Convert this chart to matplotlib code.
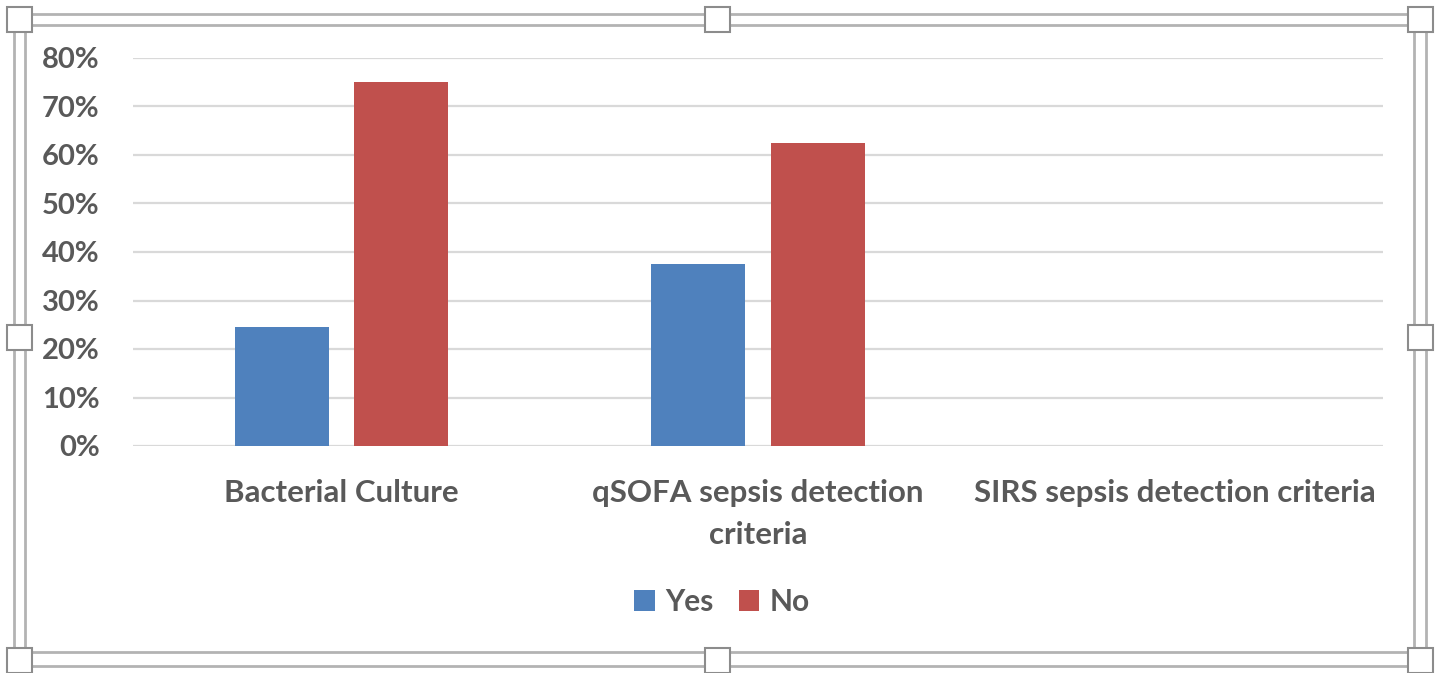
import matplotlib
matplotlib.use('Agg')
import numpy as np
import matplotlib.pyplot as plt
from matplotlib.patches import Rectangle
from matplotlib.ticker import PercentFormatter

# data (percent)
categories = ['Bacterial Culture', 'qSOFA sepsis detection\ncriteria',
              'SIRS sepsis detection criteria']
yes_vals = [24.6, 37.5, 0.0]
no_vals = [75.0, 62.5, 0.0]
y_ticks = [0, 10, 20, 30, 40, 50, 60, 70, 80]

W, H = 1440, 673
txt_col = '#595959'
blue, red = '#4F81BD', '#C0504D'

plt.rcParams['font.family'] = ['Lato', 'DejaVu Sans']
plt.rcParams['font.weight'] = 'bold'

fig = plt.figure(figsize=(W / 100, H / 100), dpi=100)
fig.patch.set_facecolor('white')


def fx(x):
    return x / W


def fy(y):
    return 1 - y / H


# plot area: x 133..1383, y 58..446 (pixels from top-left)
ax = fig.add_axes([fx(133), fy(446), fx(1383) - fx(133), fy(58) - fy(446)])

x = np.arange(len(categories))
w = 0.226
b1 = ax.bar(x - 0.143, yes_vals, width=w, color=blue, label='Yes', zorder=3)
b2 = ax.bar(x + 0.143, no_vals, width=w, color=red, label='No', zorder=3)

ax.set_xlim(-0.5, len(categories) - 0.5)
ax.set_ylim(0, 80)
ax.set_yticks(y_ticks)
ax.yaxis.set_major_formatter(PercentFormatter(decimals=0))
ax.set_xticks(x)
ax.set_xticklabels(categories, linespacing=1.6)
ax.grid(axis='y', color='#d9d9d9', linewidth=1.6, zorder=0)
ax.set_axisbelow(True)
for s in ax.spines.values():
    s.set_visible(False)
ax.tick_params(axis='both', length=0, labelsize=21, colors=txt_col)
ax.tick_params(axis='y', pad=24)
ax.tick_params(axis='x', pad=24, labelsize=22.5)
for lbl in ax.get_xticklabels() + ax.get_yticklabels():
    lbl.set_fontweight('bold')

leg = fig.legend(handles=[b1, b2], labels=['Yes', 'No'], loc='center',
                 bbox_to_anchor=(fx(722), fy(602)), ncol=2, frameon=False,
                 fontsize=21.5, handlelength=0.69, handleheight=0.69,
                 handletextpad=0.35, columnspacing=0.85)
for t in leg.get_texts():
    t.set_color(txt_col)
    t.set_fontweight('bold')

# selection frame: double gray border with handles
frame_col = '#b3b3b3'
for (x0, y0, x1, y1) in [(14, 14, 1426, 666), (25, 25, 1414, 652)]:
    fig.add_artist(Rectangle((fx(x0), fy(y1)), fx(x1) - fx(x0), fy(y0) - fy(y1),
                             transform=fig.transFigure, fill=False,
                             edgecolor=frame_col, linewidth=2.0))

hs = 25
for cx in [19.5, 717, 1420]:
    for cy in [19.5, 337.5, 660]:
        if cx == 717 and cy == 337.5:
            continue
        fig.add_artist(Rectangle((fx(cx - hs / 2), fy(cy + hs / 2)), fx(hs), hs / H,
                                 transform=fig.transFigure, facecolor='white',
                                 edgecolor='#8c8c8c', linewidth=1.5, zorder=5))

fig.savefig('out.png', dpi=100, facecolor='white')
